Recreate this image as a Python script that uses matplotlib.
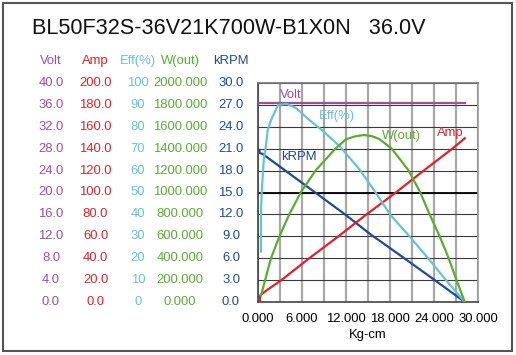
import matplotlib
matplotlib.use("Agg")
import matplotlib.pyplot as plt
from matplotlib.patches import Rectangle
from matplotlib.transforms import blended_transform_factory

plt.rcParams['font.family'] = ['Liberation Sans', 'DejaVu Sans']

# ---------------------------
# DATA
# ---------------------------

title = "BL50F32S-36V21K700W-B1X0N   36.0V"

volt_torque = [0.18, 28.2]
volt = [36.3, 36.3]

amp_torque = [0.25, 0.27, 0.3, 1.1, 3.1, 7.0, 10.9, 14.8, 18.8, 22.6, 26.5, 28.2]
amp = [1.0, 3.5, 6.0, 10.3, 19.5, 40.0, 59.6, 80.0, 100.0, 120.0, 140.0, 149.5]

eff_torque = [0.40, 0.42, 0.55, 0.78, 1.09, 1.32, 1.77, 2.73, 3.96, 5.2, 7.0,
              8.9, 11.2, 13.9, 16.0, 18.0, 20.7, 23.2, 25.7, 28.2]
eff = [23, 43, 52.6, 64.8, 71.7, 78.5, 83, 90, 90.4, 88.5, 83.1,
       78, 70.9, 60.3, 50.2, 40, 29.8, 20, 9.7, 0]

w_torque = [0.41, 1.77, 2.9, 4.27, 5.87, 7.9, 10.6, 12.0, 13.2, 14.4, 15.5,
            16.5, 18.2, 20.5, 22.1, 23.4, 24.8, 26.0, 27.1, 28.2]
w_out = [60, 399, 596, 801, 1005, 1205, 1403, 1486, 1512, 1525, 1515,
         1490, 1403, 1205, 1005, 801, 596, 399, 195, 0]

krpm_torque = [0.18, 0.25, 0.6, 7.8, 12.0, 15.3, 19.8, 24.1, 28.2]
krpm = [20.8, 20.4, 20.3, 15.0, 11.9, 9.3, 6.1, 3.0, 0.0]

volt_ticks = [0, 4, 8, 12, 16, 20, 24, 28, 32, 36, 40]
amp_ticks = [0, 20, 40, 60, 80, 100, 120, 140, 160, 180, 200]
eff_ticks = [0, 10, 20, 30, 40, 50, 60, 70, 80, 90, 100]
w_ticks = [0, 200, 400, 600, 800, 1000, 1200, 1400, 1600, 1800, 2000]
krpm_ticks = [0, 3, 6, 9, 12, 15, 18, 21, 24, 27, 30]
x_ticks = [0, 6, 12, 18, 24, 30]

# ---------------------------
# STYLE
# ---------------------------

W, H = 516, 355
FS = 9.4
c_volt = '#9c4f98'
c_amp = '#e0202a'
c_eff = '#68c3d0'
c_w = '#5aac32'
c_krpm = '#1f4a96'

fig = plt.figure(figsize=(W / 100, H / 100), dpi=100)
fig.patches.append(Rectangle((2.5 / W, 4 / H), 509 / W, 348 / H, fill=False,
                             transform=fig.transFigure, ec='#555555', lw=1.5))
fig.text(32 / W, 1 - 28 / H, title, fontsize=15.6, va='center', ha='left', color='#111111')

ax = fig.add_axes([258 / W, 1 - 302 / H, 220 / W, 219 / H])
ax.set_xlim(0, 30)
ax.set_ylim(0, 30)
ax.set_xticks(x_ticks)
ax.set_xticklabels([f"{v:.3f}" for v in x_ticks], fontsize=FS)
ax.set_xticks([3, 9, 15, 21, 27], minor=True)
ax.set_yticks(krpm_ticks)
ax.set_yticklabels([])
ax.tick_params(which='both', length=0)
ax.tick_params(axis='x', pad=8)
ax.grid(axis='x', which='both', color='#a8a8a8', lw=1.6)
ax.grid(axis='y', color='#3a3a3a', lw=0.8)
ax.axhline(15, color='black', lw=1.3)
ax.set_axisbelow(True)
for side, col in [('left', '#444444'), ('bottom', '#444444'), ('top', '#777777'), ('right', '#999999')]:
    ax.spines[side].set_color(col)
    ax.spines[side].set_linewidth(1.2)
ax.set_xlabel("Kg-cm", fontsize=FS, labelpad=3)

# ---------------------------
# CURVES
# ---------------------------

def twin(lim):
    t = ax.twinx()
    t.set_ylim(0, lim)
    t.axis('off')
    return t

ax_volt = twin(40)
ax_amp = twin(200)
ax_eff = twin(100)
ax_w = twin(2000)

ax_volt.plot(volt_torque, volt, color=c_volt, lw=1.6)
ax_eff.plot(eff_torque, eff, color=c_eff, lw=1.6)
ax_w.plot(w_torque, w_out, color=c_w, lw=1.6)
ax_amp.plot(amp_torque, amp, color=c_amp, lw=1.6)
ax.plot(krpm_torque, krpm, color=c_krpm, lw=1.6)

ax.text(3.0, 28.3, "Volt", color=c_volt, fontsize=FS, va='center')
ax.text(10.8, 25.5, "Eff(%)", color=c_eff, fontsize=FS, va='center', ha='center')
ax.text(19.6, 22.7, "W(out)", color=c_w, fontsize=FS, va='center', ha='center')
ax.text(26.2, 23.2, "Amp", color=c_amp, fontsize=FS, va='center', ha='center')
ax.text(5.6, 19.8, "kRPM", color=c_krpm, fontsize=FS, va='center', ha='center')

# ---------------------------
# LEFT SCALE COLUMNS
# ---------------------------

columns = [
    ("Volt", ax_volt, volt_ticks, "{:.1f}", c_volt, 51),
    ("Amp", ax_amp, amp_ticks, "{:.1f}", c_amp, 95.5),
    ("Eff(%)", ax_eff, eff_ticks, "{:.0f}", c_eff, 138),
    ("W(out)", ax_w, w_ticks, "{:.3f}", c_w, 180),
    ("kRPM", ax, krpm_ticks, "{:.1f}", c_krpm, 231),
]

for header, a, ticks, fmt, color, xpx in columns:
    tr = blended_transform_factory(fig.transFigure, a.transData)
    for v in ticks:
        a.text(xpx / W, v, fmt.format(v), transform=tr, ha='center', va='center',
               color=color, fontsize=FS, clip_on=False)
    fig.text(xpx / W, 1 - 61 / H, header, ha='center', va='center', color=color, fontsize=FS)

fig.savefig("out.png", dpi=100)
